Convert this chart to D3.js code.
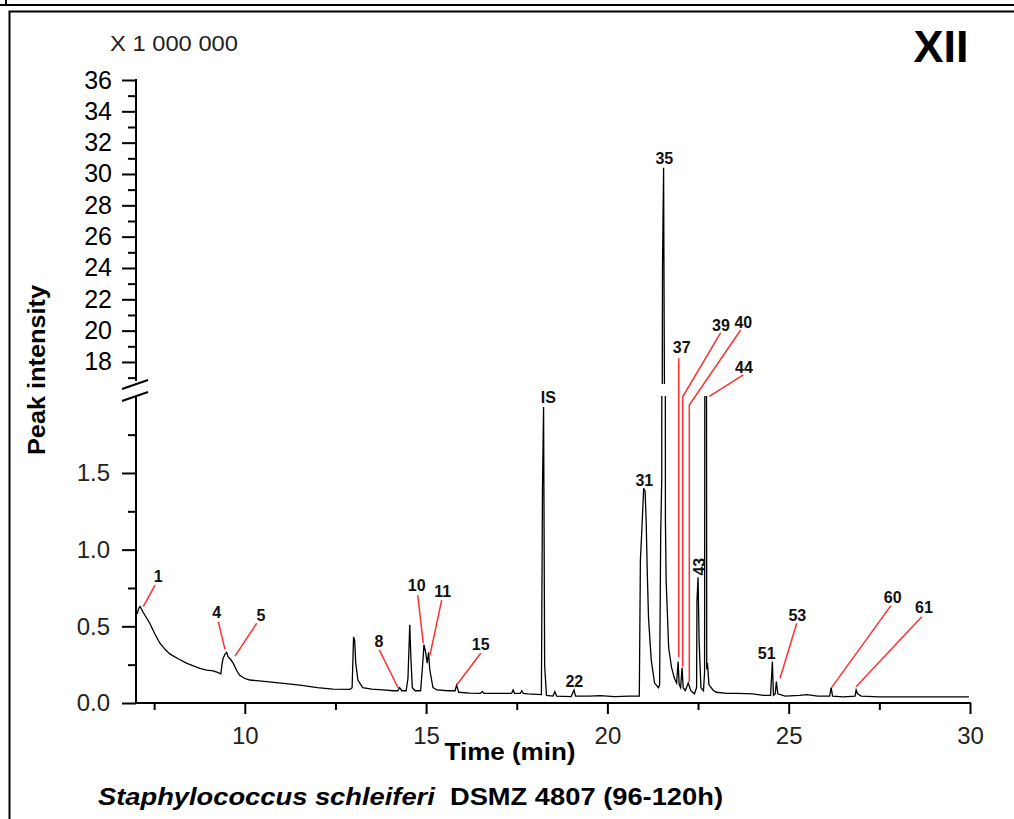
<!DOCTYPE html>
<html>
<head>
<meta charset="utf-8">
<script src="https://cdn.jsdelivr.net/npm/d3@7"></script>
<style>
  body { margin: 0; background: #fff; }
  svg text { font-family: "Liberation Sans", Arial, sans-serif; }
</style>
</head>
<body>
<svg id="chart" width="1014" height="819"></svg>
<script>
// retention time (min) and intensity (x 1 000 000)
const times = [
  7.03, 7.08, 7.11, 7.20, 7.38, 7.52, 7.66, 7.80, 7.93, 8.15, 8.39, 8.60, 8.76, 8.95, 9.13, 9.25, 9.34,
  9.37, 9.40, 9.46, 9.50, 9.54, 9.59, 9.68, 9.78, 9.86, 10.00, 10.14, 10.60, 11.00, 11.52, 12.00, 12.43,
  12.90, 12.96, 13.00, 13.03, 13.06, 13.12, 13.25, 13.50, 13.80, 14.10, 14.22, 14.27, 14.33, 14.45,
  14.50, 14.55, 14.58, 14.62, 14.70, 14.85, 14.92, 14.94, 14.98, 15.03, 15.07, 15.10, 15.19, 15.30,
  15.60, 15.80, 15.84, 15.90, 16.20, 16.50, 16.55, 16.60, 17.00, 17.36, 17.40, 17.44, 17.60, 17.64,
  17.68, 17.80, 18.18, 18.21, 18.24, 18.27, 18.32, 18.50, 18.55, 18.60, 19.00, 19.08, 19.12, 19.50,
  19.80, 20.20, 20.60, 20.88, 20.91, 20.96, 21.00, 21.04, 21.07, 21.10, 21.135, 21.21, 21.30, 21.41,
  21.44, 21.47, 21.50, 21.52, 21.55, 21.56, 21.60, 21.62, 21.69, 21.77, 21.85, 21.91, 21.95, 21.98,
  22.02, 22.06, 22.09, 22.15, 22.23, 22.30, 22.40, 22.46, 22.47, 22.50, 22.53, 22.58, 22.65, 22.68,
  22.71, 22.74, 22.76, 22.80, 22.91, 23.00, 23.30, 23.60, 24.00, 24.30, 24.50, 24.55, 24.58, 24.63,
  24.66, 24.70, 24.90, 25.30, 25.50, 25.80, 26.13, 26.17, 26.21, 26.50, 26.83, 26.86, 26.90, 27.00,
  27.50, 28.00, 28.50, 29.00, 29.50, 29.97
]
const intensity = [
  0.58, 0.62, 0.63, 0.59, 0.52, 0.45, 0.39, 0.35, 0.32, 0.29, 0.26, 0.24, 0.226, 0.215, 0.21, 0.20, 0.19,
  0.25, 0.29, 0.32, 0.33, 0.30, 0.29, 0.26, 0.21, 0.18, 0.16, 0.15, 0.14, 0.13, 0.117, 0.10, 0.09,
  0.089, 0.10, 0.43, 0.41, 0.26, 0.15, 0.10, 0.09, 0.085, 0.08, 0.08, 0.10, 0.08, 0.08,
  0.16, 0.51, 0.30, 0.10, 0.08, 0.08, 0.30, 0.38, 0.34, 0.26, 0.33, 0.22, 0.10, 0.085,
  0.08, 0.08, 0.117, 0.07, 0.065, 0.063, 0.075, 0.063, 0.063, 0.063, 0.085, 0.063, 0.063, 0.08,
  0.063, 0.06, 0.055, 1.41, 1.93, 0.24, 0.05, 0.045, 0.074, 0.045, 0.042, 0.085, 0.045, 0.045,
  0.048, 0.042, 0.045, 0.045, 0.93, 1.18, 1.40, 1.38, 1.18, 0.85, 0.55, 0.28, 0.13, 0.10,
  0.12, 1.10, 1.47, 24.1, 30.4, 24.0, 1.19, 0.80, 0.36, 0.23, 0.16, 0.13, 0.27, 0.12,
  0.10, 0.23, 0.10, 0.08, 0.13, 0.08, 0.06, 0.10, 0.66, 0.82, 0.40, 0.10, 0.08, 0.20,
  8.5, 0.22, 0.26, 0.12, 0.085, 0.07, 0.063, 0.063, 0.06, 0.05, 0.05, 0.27, 0.05, 0.06,
  0.14, 0.06, 0.045, 0.05, 0.055, 0.045, 0.045, 0.10, 0.045, 0.04, 0.045, 0.085, 0.06, 0.045,
  0.04, 0.04, 0.04, 0.04, 0.04, 0.04
]

// peak labels: text, label position [time, intensity], leader points
const peakNames = ['1', '4', '5', '8', '10', '11', '15', 'IS', '22', '31', '35', '37', '39', '40', '43', '44', '51', '53', '60', '61']
const labelAt = [
  [7.615, 0.824], [9.226, 0.589], [10.447, 0.574], [13.702, 0.40], [14.741, 0.769], [15.458, 0.726],
  [16.506, 0.385], [18.371, 1.997], [19.088, 0.139], [21.018, 1.454], [21.57, 31.0], [22.05, 18.94],
  [23.133, 20.36], [23.748, 20.51], [22.535, 0.889], [23.768, 17.66], [24.394, 0.324], [25.238, 0.574],
  [27.869, 0.689], [28.732, 0.627]
]
const leaders = [
  [[7.524, 0.769], [7.201, 0.628]],
  [[9.27, 0.53], [9.454, 0.35]],
  [[10.329, 0.52], [9.73, 0.306]],
  [[13.71, 0.346], [14.234, 0.096]],
  [[14.769, 0.704], [14.923, 0.389]],
  [[15.431, 0.672], [15.108, 0.313]],
  [[16.506, 0.324], [15.844, 0.117]],
  null, null, null, null,
  [[21.967, 18.23], [21.967, 0.298]],
  [[23.125, 19.87], [22.077, 1.997], [22.077, 0.237]],
  [[23.676, 20.04], [22.259, 1.943], [22.259, 0.139]],
  null,
  [[23.748, 17.17], [22.811, 2.0]],
  null,
  [[25.221, 0.52], [24.761, 0.161]],
  [[27.814, 0.633], [26.186, 0.102]],
  [[28.669, 0.562], [26.857, 0.106]]
]

const xMajor = [10, 15, 20, 25, 30]
const xMinor = [7.5, 12.5, 17.5, 22.5, 27.5]
const upperMajor = [18, 20, 22, 24, 26, 28, 30, 32, 34, 36]
const upperMinor = [17, 19, 21, 23, 25, 27, 29, 31, 33, 35]
const lowerMajor = [0, 0.5, 1.0, 1.5]
const lowerMinor = [0.25, 0.75, 1.25, 1.75]

const svg = d3.select('#chart')

const x = d3.scaleLinear().domain([7, 30]).range([136, 970])
const yLow = d3.scaleLinear().domain([0, 2]).range([703, 396.3])
const yUp = d3.scaleLinear().domain([16, 36]).range([393.3, 80])
const yAt = v => v >= 16 ? yUp(v) : yLow(v)

// frame
svg.append('line').attr('x1', 0).attr('x2', 1014).attr('y1', 5).attr('y2', 5)
  .attr('stroke', '#000').attr('stroke-width', 2)
svg.append('line').attr('x1', 6).attr('x2', 6).attr('y1', 0).attr('y2', 5)
  .attr('stroke', '#000').attr('stroke-width', 2)
svg.append('path').attr('d', 'M1016,11.5H9.5V820')
  .attr('fill', 'none').attr('stroke', '#000').attr('stroke-width', 2)

// clip regions for the broken y axis
const defs = svg.append('defs')
defs.append('clipPath').attr('id', 'clipLow').append('rect')
  .attr('x', 130).attr('y', 396).attr('width', 860).attr('height', 320)
defs.append('clipPath').attr('id', 'clipUp').append('rect')
  .attr('x', 130).attr('y', 60).attr('width', 860).attr('height', 324)

const pts = times.map((t, i) => [t, intensity[i]])

svg.append('path')
  .datum(pts)
  .attr('clip-path', 'url(#clipLow)')
  .attr('fill', 'none').attr('stroke', '#000').attr('stroke-width', 1.3)
  .attr('d', d3.line().x(d => x(d[0])).y(d => yLow(d[1])))

svg.append('path')
  .datum(pts)
  .attr('clip-path', 'url(#clipUp)')
  .attr('fill', 'none').attr('stroke', '#000').attr('stroke-width', 1.3)
  .attr('d', d3.line().x(d => x(d[0])).y(d => yUp(d[1])))

// leaders
leaders.forEach(l => {
  if (!l) return
  svg.append('path')
    .datum(l)
    .attr('fill', 'none').attr('stroke', '#ff3030').attr('stroke-width', 1.5)
    .attr('d', d3.line().x(d => x(d[0])).y(d => yAt(d[1])))
})

// peak labels
peakNames.forEach((name, i) => {
  const px = x(labelAt[i][0])
  const py = yAt(labelAt[i][1])
  const t = svg.append('text')
    .attr('text-anchor', 'middle')
    .attr('dy', '0.36em')
    .attr('font-size', 16)
    .attr('font-weight', 'bold')
    .attr('fill', '#111')
    .text(name)
  if (name === '43') {
    t.attr('transform', `translate(${px},${py}) rotate(-90)`)
  } else {
    t.attr('x', px).attr('y', py)
  }
})

// axes
function styleAxis (g, size, color) {
  g.select('.domain').remove()
  g.selectAll('.tick line').attr('stroke', '#000').attr('stroke-width', 2)
  g.selectAll('.tick text').attr('font-size', size).attr('fill', color)
    .attr('font-family', '"Liberation Sans", Arial, sans-serif')
}

const gx = svg.append('g').attr('transform', 'translate(0,703)')
  .call(d3.axisBottom(x).tickValues(xMajor).tickSize(11).tickPadding(13).tickFormat(d3.format('d')))
styleAxis(gx, 24, '#222')
const gxm = svg.append('g').attr('transform', 'translate(0,703)')
  .call(d3.axisBottom(x).tickValues(xMinor).tickSize(7).tickFormat(''))
styleAxis(gxm, 24, '#222')
svg.append('line').attr('x1', 135).attr('x2', 971).attr('y1', 703).attr('y2', 703)
  .attr('stroke', '#000').attr('stroke-width', 2)

const gu = svg.append('g').attr('transform', 'translate(136,0)')
  .call(d3.axisLeft(yUp).tickValues(upperMajor).tickSize(14).tickPadding(10).tickFormat(d3.format('d')))
styleAxis(gu, 25, '#000')
const gum = svg.append('g').attr('transform', 'translate(136,0)')
  .call(d3.axisLeft(yUp).tickValues(upperMinor).tickSize(8).tickFormat(''))
styleAxis(gum, 25, '#000')

const gl = svg.append('g').attr('transform', 'translate(136,0)')
  .call(d3.axisLeft(yLow).tickValues(lowerMajor).tickSize(14).tickPadding(12).tickFormat(d3.format('.1f')))
styleAxis(gl, 24, '#222')
const glm = svg.append('g').attr('transform', 'translate(136,0)')
  .call(d3.axisLeft(yLow).tickValues(lowerMinor).tickSize(8).tickFormat(''))
styleAxis(glm, 24, '#222')

svg.append('line').attr('x1', 136).attr('x2', 136).attr('y1', yUp(36) - 1).attr('y2', 381)
  .attr('stroke', '#000').attr('stroke-width', 2)
svg.append('line').attr('x1', 136).attr('x2', 136).attr('y1', 397).attr('y2', 704)
  .attr('stroke', '#000').attr('stroke-width', 2)
// axis break marks
svg.append('line').attr('x1', 122).attr('y1', 389).attr('x2', 148).attr('y2', 380)
  .attr('stroke', '#000').attr('stroke-width', 2)
svg.append('line').attr('x1', 122).attr('y1', 401).attr('x2', 148).attr('y2', 392)
  .attr('stroke', '#000').attr('stroke-width', 2)

// titles
svg.append('text').attr('x', 110).attr('y', 51).attr('font-size', 22).attr('fill', '#222')
  .attr('textLength', 128).attr('lengthAdjust', 'spacingAndGlyphs')
  .text('X 1 000 000')
svg.append('text').attr('x', 941).attr('y', 62).attr('text-anchor', 'middle')
  .attr('font-size', 45).attr('font-weight', 'bold').text('XII')
svg.append('text')
  .attr('transform', 'translate(45,370) rotate(-90)')
  .attr('text-anchor', 'middle').attr('font-size', 24).attr('font-weight', 'bold')
  .attr('textLength', 170).attr('lengthAdjust', 'spacingAndGlyphs')
  .text('Peak intensity')
svg.append('text').attr('x', 510).attr('y', 760).attr('text-anchor', 'middle')
  .attr('font-size', 24).attr('font-weight', 'bold')
  .attr('textLength', 131).attr('lengthAdjust', 'spacingAndGlyphs')
  .text('Time (min)')

const cap = svg.append('text').attr('x', 98).attr('y', 805).attr('font-size', 23).attr('font-weight', 'bold')
  .attr('textLength', 625).attr('lengthAdjust', 'spacingAndGlyphs')
cap.append('tspan').attr('font-style', 'italic').text('Staphylococcus schleiferi')
cap.append('tspan').text(' \u00a0DSMZ 4807 (96-120h)')
</script>
</body>
</html>
